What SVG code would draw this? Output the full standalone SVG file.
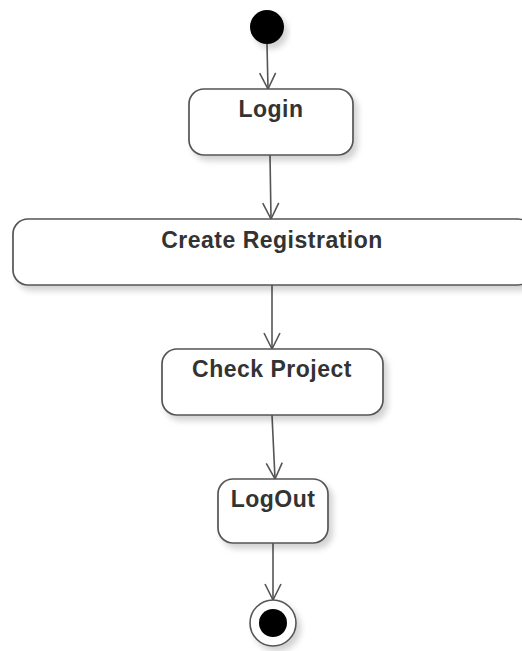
<svg xmlns="http://www.w3.org/2000/svg" width="522" height="651" viewBox="0 0 522 651">
<style>
.box{fill:#fff;stroke:#555;stroke-width:1.7}
.lbl{font-family:"Liberation Sans",Arial,sans-serif;font-weight:bold;font-size:23px;letter-spacing:0.5px;fill:#333;text-anchor:middle}
.edge{stroke:#555;stroke-width:1.6;fill:none}
</style>
<defs>
<filter id="sh" x="-20%" y="-20%" width="140%" height="160%">
<feGaussianBlur in="SourceAlpha" stdDeviation="3"/>
<feOffset dx="4" dy="5" result="b"/>
<feComponentTransfer><feFuncA type="linear" slope="0.18"/></feComponentTransfer>
<feMerge><feMergeNode/><feMergeNode in="SourceGraphic"/></feMerge>
</filter>
<marker id="arr" markerWidth="20" markerHeight="20" refX="17" refY="9" orient="auto" markerUnits="userSpaceOnUse">
<path d="M1,1 L17,9 L1,17" fill="none" stroke="#555" stroke-width="1.6"/>
</marker>
</defs>
<rect width="522" height="651" fill="#fff"/>
<g id="connectors">
<line class="edge" x1="267" y1="44" x2="268" y2="89" marker-end="url(#arr)"/>
<line class="edge" x1="270" y1="155" x2="271" y2="219" marker-end="url(#arr)"/>
<line class="edge" x1="272" y1="285" x2="272" y2="349" marker-end="url(#arr)"/>
<line class="edge" x1="272" y1="415" x2="275" y2="479" marker-end="url(#arr)"/>
<line class="edge" x1="273" y1="543" x2="273" y2="600" marker-end="url(#arr)"/>
</g>
<g id="start">
<circle cx="267" cy="27" r="17" fill="#000" filter="url(#sh)"/>
</g>
<g id="login">
<rect class="box" x="189" y="89" width="164" height="66" rx="15" filter="url(#sh)"/>
<text class="lbl" x="271" y="117">Login</text>
</g>
<g id="create-registration">
<rect class="box" x="13" y="219" width="520" height="66" rx="15" filter="url(#sh)"/>
<text class="lbl" x="272" y="248">Create Registration</text>
</g>
<g id="check-project">
<rect class="box" x="162" y="349" width="221" height="66" rx="15" filter="url(#sh)"/>
<text class="lbl" x="272" y="377">Check Project</text>
</g>
<g id="logout">
<rect class="box" x="218" y="479" width="110" height="64" rx="15" filter="url(#sh)"/>
<text class="lbl" x="273" y="507">LogOut</text>
</g>
<g id="end">
<circle cx="273" cy="623" r="23" fill="#fff" stroke="#555" stroke-width="1.6" filter="url(#sh)"/>
<circle cx="273" cy="623" r="14" fill="#000"/>
</g>
</svg>
